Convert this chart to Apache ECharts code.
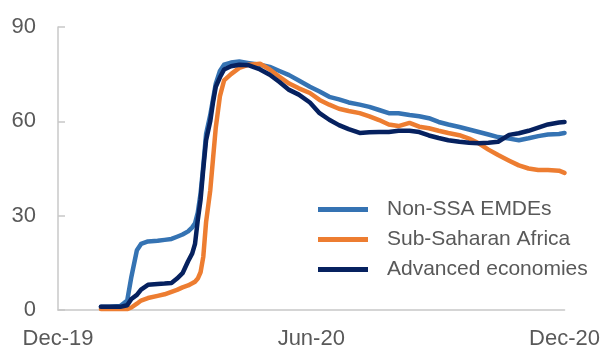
<!DOCTYPE html>
<html>
<head>
<meta charset="utf-8">
<script src="https://cdn.jsdelivr.net/npm/echarts@6/dist/echarts.min.js"></script>
<style>
    html, body { margin: 0; padding: 0; background: #fff; }
    #chart { width: 603px; height: 354px; }
</style>
</head>
<body>
<div id="chart"></div>
<script>
// days since 1 Dec 2019
const days = [31, 37, 45, 50, 53, 57, 60, 65, 72, 77, 82, 86, 90, 94, 97, 99, 101, 103, 105, 107,
    110, 112, 114, 117, 120, 125, 131, 138, 146, 153, 160, 167, 174, 182, 189, 196, 203, 210, 218, 225,
    232, 239, 246, 254, 261, 268, 275, 282, 290, 297, 304, 311, 318, 326, 333, 340, 347, 354, 362, 366];

const nonSsa = [1, 1, 1.3, 3, 10.5, 19, 21, 21.8, 22, 22.3, 22.6, 23.3, 24, 25, 26.3, 27.6, 31, 37, 46, 56,
    62, 67, 72, 76, 78, 78.7, 79, 78.5, 78, 77.3, 76, 74.7, 73, 71, 69.5, 67.8, 67, 66, 65.3, 64.6,
    63.6, 62.6, 62.6, 62, 61.6, 61, 59.8, 59, 58.2, 57.4, 56.6, 55.8, 55, 54.5, 54, 54.6, 55.3, 55.8, 56, 56.3];

const ssa = [0.3, 0.3, 0.3, 0.3, 0.8, 2, 3, 3.8, 4.5, 5, 5.8, 6.4, 7.2, 7.8, 8.5, 9, 10, 12, 17, 28,
    38, 48, 58, 68, 73, 75, 77, 78, 78.3, 76.5, 74.2, 72, 70.5, 69, 66.8, 65.3, 64, 63.3, 62.6, 61.6,
    60.4, 59, 58.5, 59.5, 58.3, 57.8, 57, 56.3, 55.6, 54.5, 53, 51, 49.3, 47.5, 46, 45, 44.5, 44.5, 44.3, 43.6];

const advanced = [1, 1, 1, 1.5, 3.5, 4.8, 6.5, 8, 8.3, 8.4, 8.6, 10, 11.7, 15.5, 18, 21, 28.6, 35, 45, 54,
    60, 66, 71, 74, 76.5, 77.5, 78, 77.8, 76.5, 74.8, 72.5, 70, 68.5, 66, 62.6, 60.5, 58.8, 57.5, 56.3, 56.5,
    56.6, 56.6, 57, 57, 56.6, 55.5, 54.7, 54, 53.5, 53.2, 53, 53.2, 53.5, 55.7, 56.2, 57, 58, 59, 59.6, 59.8];

const xTickLabels = { 0: "Dec-19", 183: "Jun-20", 366: "Dec-20" };

const seriesNames = ["Non-SSA EMDEs", "Sub-Saharan Africa", "Advanced economies"];
const colors = ["#3573b3", "#ed7d31", "#06215f"];

function pairs(vals) {
    return days.map((d, i) => [d, vals[i]]);
}

const chart = echarts.init(document.getElementById("chart"));
const textColor = "#595959";

chart.setOption({
    animation: false,
    color: colors,
    grid: { left: 58, right: 37, top: 27, bottom: 44 },
    legend: {
        orient: "vertical",
        left: 313,
        top: 194,
        icon: "rect",
        itemWidth: 50,
        itemHeight: 5,
        itemGap: 9,
        data: seriesNames,
        textStyle: {
            color: textColor,
            fontFamily: "Liberation Sans",
            fontSize: 21,
            lineHeight: 21,
            padding: [0, 0, 0, 14]
        }
    },
    xAxis: {
        type: "value",
        min: 0,
        max: 366,
        interval: 183,
        splitLine: { show: false },
        axisTick: { show: false },
        axisLine: { lineStyle: { color: "#c8c8c8", width: 1.5 } },
        axisLabel: {
            color: textColor,
            fontFamily: "Liberation Sans",
            fontSize: 22,
            margin: 18,
            formatter: v => xTickLabels[v] || ""
        }
    },
    yAxis: {
        type: "value",
        min: 0,
        max: 90,
        interval: 30,
        splitLine: { show: false },
        axisLine: { show: true, lineStyle: { color: "#c8c8c8", width: 1.5 } },
        axisTick: { show: true, inside: true, length: 7, lineStyle: { color: "#c8c8c8", width: 1.5 } },
        axisLabel: {
            color: textColor,
            fontFamily: "Liberation Sans",
            fontSize: 22,
            margin: 22
        }
    },
    series: [nonSsa, ssa, advanced].map((vals, i) => ({
        name: seriesNames[i],
        type: "line",
        data: pairs(vals),
        showSymbol: false,
        lineStyle: { width: 4.5, cap: "round", join: "round" }
    }))
});
</script>
</body>
</html>
